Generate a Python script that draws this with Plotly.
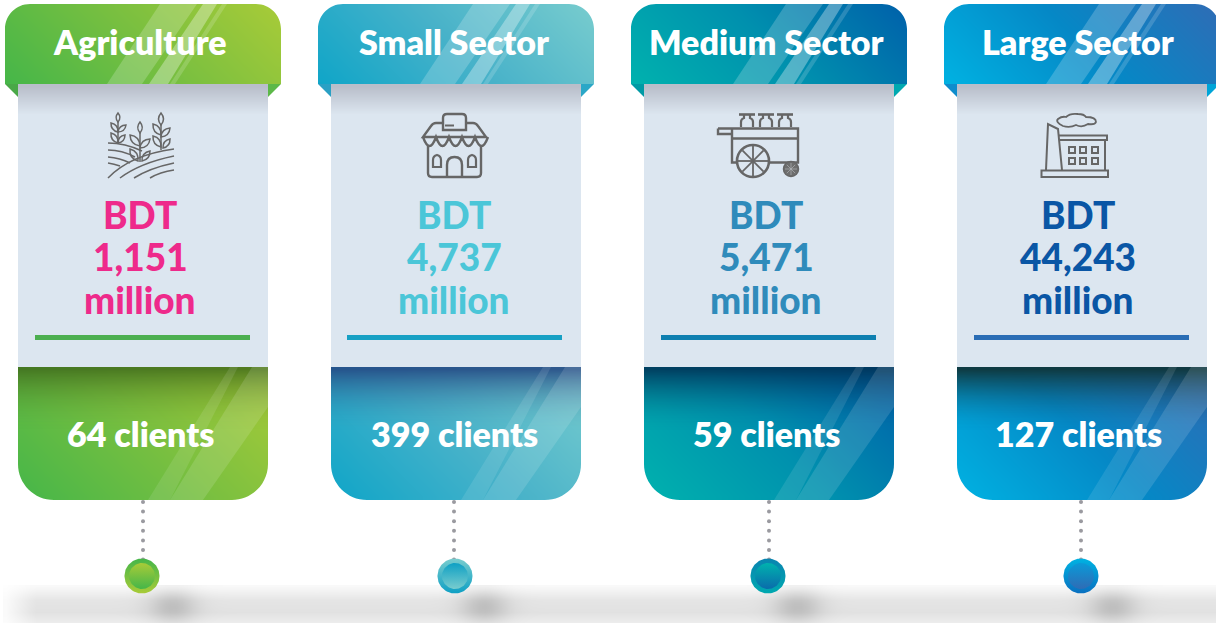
import numpy as np
import plotly.graph_objects as go

# ---- chart content ----
categories = ["Agriculture", "Small Sector", "Medium Sector", "Large Sector"]
amounts_million = [1151, 4737, 5471, 44243]
clients = [64, 399, 59, 127]
currency = "BDT"
unit = "million"

# ---- styles ----
low_colors = ["#45b649", "#0fa5c8", "#00b2ae", "#00b2e2"]
mid_colors = ["#78bf40", "#48b2c9", "#0090ae", "#0588c6"]
high_colors = ["#a8cb38", "#78ccce", "#0060aa", "#2f6cb5"]
amount_colors = ["#ee2a8b", "#4bc6d8", "#2f8bbb", "#0a56a5"]
rule_colors = ["#4caf50", "#17a0c4", "#0e7fb0", "#2a6db5"]
fold_left = ["#4aa847", "#2aa0c4", "#009aa5", "#0e8ccc"]
fold_right = ["#5cb848", "#2aa7c7", "#00a9b0", "#00a5d8"]
dark_top = [(58, 100, 25, .8), (35, 70, 130, .9), (0, 50, 85, .9), (15, 55, 60, 1)]
circle_outer = [("#a8cb38", "#45b649"), ("#0fa0c4", "#78ccce"), ("#00a9b0", "#0a84b0"), ("#0a70c0", "#00b2e2")]
circle_inner = [("#45b649", "#a8cb38"), ("#78ccce", "#0fa0c4"), ("#0a6cab", "#00b2ae"), ("#2f6cb5", "#0a9ad8")]

header_x = [5, 318, 631, 944]
panel_x = [18, 331, 644, 957]
text_x = [140, 454, 766, 1078]
rule_x = [35, 347, 661, 974]
dot_x = [143, 454, 769, 1081]
circle_x = [142, 455, 768, 1081]
blob_x = [172, 484, 797, 1112]
W, H = 1216, 623
FONT = "Lato"
ICON = "#666666"

fig = go.Figure()
shapes, notes = [], []


def cells(a, b, n):
    """Heatmap cell centres whose cells exactly span a..b."""
    d = (b - a) / n
    return a + d / 2 + d * np.arange(n)


def diag_heat(x0, x1, y0, y1, scale, name):
    x = cells(x0, x1, 32)
    y = cells(y0, y1, 16)
    xx, yy = np.meshgrid(x, y)
    z = ((xx - x0) + (y1 - yy)) / ((x1 - x0) + (y1 - y0))
    fig.add_heatmap(x=x, y=y, z=z, zmin=0, zmax=1, colorscale=scale, zsmooth="best",
                    showscale=False, hoverinfo="skip", name=name)


def poly(points, fill, opacity=1.0):
    d = "M" + " L".join(f"{px},{py}" for px, py in points) + " Z"
    shapes.append(dict(type="path", path=d, fillcolor=fill, opacity=opacity,
                       line=dict(width=0), layer="above"))


def corner_mask(cx, cy, r, sx, sy):
    k = r * 0.448
    d = (f"M{cx},{cy} L{cx + sx * r},{cy} C{cx + sx * k},{cy} {cx},{cy + sy * k} {cx},{cy + sy * r} Z")
    shapes.append(dict(type="path", path=d, fillcolor="white", line=dict(width=0), layer="above"))


def stroke(d, width=2.0, fill=None, color=ICON):
    shapes.append(dict(type="path", path=d, fillcolor=fill or "rgba(0,0,0,0)",
                       line=dict(color=color, width=width), layer="above"))


def circle_path(cx, cy, r):
    k = r * 0.5523
    return (f"M{cx - r},{cy} C{cx - r},{cy - k} {cx - k},{cy - r} {cx},{cy - r} "
            f"C{cx + k},{cy - r} {cx + r},{cy - k} {cx + r},{cy} "
            f"C{cx + r},{cy + k} {cx + k},{cy + r} {cx},{cy + r} "
            f"C{cx - k},{cy + r} {cx - r},{cy + k} {cx - r},{cy} Z")


def leaf(x0, y0, x1, y1, b=0.42):
    mx, my = (x0 + x1) / 2, (y0 + y1) / 2
    nx, ny = -(y1 - y0) * b, (x1 - x0) * b
    return (f"M{x0},{y0} Q{mx + nx:.1f},{my + ny:.1f} {x1},{y1} "
            f"Q{mx - nx:.1f},{my - ny:.1f} {x0},{y0} Z")


# ---- soft floor shadow ----
sx = cells(3, W, 200)
sy = cells(585, H, 19)
xx, yy = np.meshgrid(sx, sy)
base = np.interp(yy, [585, 588, 600, 612, 623], [.06, .1, .3, .34, .2])
base = base * np.interp(xx, [3, 35], [.1, 1])
for b in blob_x:
    base = base + .42 * np.exp(-((xx - b) ** 2) / (2 * 17 ** 2) - ((yy - 606) ** 2) / (2 * 12 ** 2))
fig.add_heatmap(x=sx, y=sy, z=base, zmin=0, zmax=1, zsmooth="best", showscale=False, hoverinfo="skip",
                colorscale=[[0, "#ffffff"], [1, "#a8a8a8"]], name="shadow")

# ---- cards ----
for i, cat in enumerate(categories):
    hx, px = header_x[i], panel_x[i]
    hx1, px1 = hx + 276, px + 250
    scale = [[0, low_colors[i]], [.5, mid_colors[i]], [1, high_colors[i]]]
    diag_heat(hx, hx1, 4, 84, scale, cat + " header")

    py = cells(84, 367, 71)
    pz = np.clip((py - 84) / 30, 0, 1)[:, None].repeat(2, axis=1)
    fig.add_heatmap(x=cells(px, px1, 2), y=py, z=pz, zmin=0, zmax=1, zsmooth="best", showscale=False,
                    hoverinfo="skip", colorscale=[[0, "#b6bbc7"], [1, "#dce6f0"]], name=cat + " panel")

    diag_heat(px, px1, 367, 500, scale, cat + " clients")
    r, g, b, a = dark_top[i]
    oy = cells(367, 500, 44)
    oz = (np.clip((432 - oy) / 65, 0, 1) ** 2)[:, None].repeat(2, axis=1)
    fig.add_heatmap(x=cells(px, px1, 2), y=oy, z=oz, zmin=0, zmax=1, zsmooth="best", showscale=False, hoverinfo="skip",
                    colorscale=[[0, f"rgba({r},{g},{b},0)"], [1, f"rgba({r},{g},{b},{a})"]], name=cat + " shade")

    corner_mask(hx, 4, 25, 1, 1)
    corner_mask(hx1, 4, 25, -1, 1)
    corner_mask(px, 500, 36, 1, -1)
    corner_mask(px1, 500, 36, -1, -1)

    poly([(hx, 84), (px, 84), (px, 97)], fold_left[i])
    poly([(hx1, 84), (px1, 84), (px1, 97)], fold_right[i])

    # glossy streaks
    poly([(hx + 102, 84), (hx + 137, 84), (hx + 192, 4), (hx + 155, 4)], "white", .2)
    poly([(hx + 144, 84), (hx + 163, 84), (hx + 212, 4), (hx + 198, 4)], "white", .32)
    poly([(hx + 165, 84), (hx + 170, 84), (hx + 222, 4), (hx + 217, 4)], "white", .16)
    poly([(px + 130, 500), (px + 152, 500), (px + 220, 367), (px + 212, 367)], "white", .1)
    poly([(px + 152, 500), (px + 185, 500), (px + 250, 407), (px + 250, 367), (px + 234, 367)], "white", .13)

    # rule
    shapes.append(dict(type="rect", x0=rule_x[i], x1=rule_x[i] + 215, y0=335, y1=340,
                       fillcolor=rule_colors[i], line=dict(width=0), layer="above"))

    # dotted connector
    dy = np.arange(502, 560, 9.6)
    fig.add_scatter(x=[dot_x[i]] * len(dy), y=dy, mode="markers", hoverinfo="skip", showlegend=False,
                    marker=dict(size=4, color="#9a9aa0"), name=cat + " connector")

    # timeline node
    t = np.linspace(0, 2 * np.pi, 90)
    for rad, cols in ((17.5, circle_outer[i]), (13, circle_inner[i])):
        fig.add_scatter(x=circle_x[i] + rad * np.cos(t), y=576 + rad * np.sin(t), mode="lines", fill="toself",
                        line=dict(width=0), hoverinfo="skip", showlegend=False,
                        fillgradient=dict(type="vertical", colorscale=[[0, cols[0]], [1, cols[1]]]),
                        name=cat + " node")

    # texts
    def note(txt, y, size, color, weight):
        notes.append(dict(x=text_x[i], y=y, text=txt, showarrow=False, xanchor="center", yanchor="middle",
                          font=dict(family=FONT, size=size, color=color, weight=weight)))

    note(cat, 41, 34, "white", 800)
    note(currency, 214, 37, amount_colors[i], 900)
    note(f"{amounts_million[i]:,}", 256, 37, amount_colors[i], 900)
    note(unit, 299, 37, amount_colors[i], 900)
    note(f"{clients[i]} clients", 433, 34, "white", 800)

# ---- icons ----
# wheat field
for d in ["M108,143 Q125,143 142,151", "M108,150 Q122,150 135,157", "M108,157 Q120,158 130,163", "M108,163 Q114,164 120,166",
          "M108,178 Q130,155 174,149", "M120,178 Q140,163 174,156", "M134,178 Q150,168 174,163", "M150,178 Q160,172 174,170",
          "M118,143 V122", "M140,162 V133", "M161,150 V125"]:
    stroke(d, 1.5)
for seg in [(118, 122, 118, 113), (118, 132, 111, 123), (118, 132, 126, 125), (118, 143, 111, 133), (118, 143, 125, 135),
            (140, 133, 140, 122), (140, 146, 130, 135), (140, 148, 150, 139), (138, 161, 130, 149), (142, 161, 150, 151),
            (161, 125, 161, 113), (161, 135, 153, 124), (161, 137, 170, 128), (161, 147, 153, 136), (163, 148, 170, 139)]:
    stroke(leaf(*seg), 1.5)

# shop
stroke("M443,123 V118 Q443,114 447,114 H462 Q466,114 466,118 V130 H443 V123", 2.4)
stroke("M445,125.5 H454", 2)
stroke("M443,123 H436 Q433,123 431,126 L423,137 H486 L478,126 Q476,123 473,123 H466", 2.4)
scallop = "M423,137 " + " ".join(f"Q{423 + 6.5 + 13 * k},{155} {423 + 13 * (k + 1)},137" for k in range(5))
stroke(scallop, 2.4)
stroke("M428,146 V173 Q428,177 432,177 H477 Q481,177 481,173 V146", 2.4)
stroke("M447,177 V165 Q447,157 454.5,157 Q462,157 462,165 V177", 2.4)
stroke("M433,167 V160 Q433,156 437,155 Q441,156 441,160 V167 Z", 2.2)
stroke("M468,167 V160 Q468,156 472,155 Q476,156 476,160 V167 Z", 2.2)

# milk cart
for cx in (747, 766, 785):
    stroke(f"M{cx - 8},114.5 H{cx + 8}", 2.6)
    stroke(f"M{cx - 6},127 V122 Q{cx - 6},119 {cx - 3},118 V115 M{cx + 3},115 V118 Q{cx + 6},119 {cx + 6},122 V127", 2.2)
stroke("M718,128.5 H798 V162.5 H768 M737,162.5 H732 V128.5 M718,128.5 V134 H732", 2.4)
stroke("M732,138.5 H798", 2.4)
stroke(circle_path(753, 161, 16), 2.6, fill="#dce6f0")
for a in range(0, 180, 45):
    dxv, dyv = 15 * np.cos(np.radians(a)), 15 * np.sin(np.radians(a))
    stroke(f"M{753 - dxv:.1f},{161 - dyv:.1f} L{753 + dxv:.1f},{161 + dyv:.1f}", 1.8)
stroke(circle_path(791, 169, 7.5), 1.5, fill="#6e6e6e")
for a in range(0, 180, 45):
    dxv, dyv = 6 * np.cos(np.radians(a)), 6 * np.sin(np.radians(a))
    stroke(f"M{791 - dxv:.1f},{169 - dyv:.1f} L{791 + dxv:.1f},{169 + dyv:.1f}", .6, color="#b8bcc0")

# factory
stroke("M1041.5,170.5 H1108 V177 H1041.5 Z", 2)
stroke("M1046,170 L1048,124 L1058,129 L1062,170", 2)
stroke("M1059,135.5 H1107 V140 H1060", 2)
stroke("M1105,140 V170", 2)
for wx in (1072, 1083, 1095):
    for wy in (150, 161):
        stroke(f"M{wx - 3},{wy - 3} H{wx + 3} V{wy + 3} H{wx - 3} Z", 2)
stroke("M1063,126 Q1055,122 1058,119 Q1062,116 1066,117 Q1070,113 1078,114 Q1084,114 1086,117 "
       "Q1096,117 1096,122 Q1095,125 1088,124 Q1082,128 1076,125 Q1070,128 1063,126 Z", 1.8)

fig.update_layout(
    width=W, height=H, margin=dict(l=0, r=0, t=0, b=0), paper_bgcolor="white", plot_bgcolor="white",
    showlegend=False, shapes=shapes, annotations=notes,
    xaxis=dict(range=[0, W], visible=False, fixedrange=True),
    yaxis=dict(range=[H, 0], visible=False, fixedrange=True),
)
fig.write_html("out.html", config=dict(displayModeBar=False),
               post_script="document.body.style.margin='0';")
